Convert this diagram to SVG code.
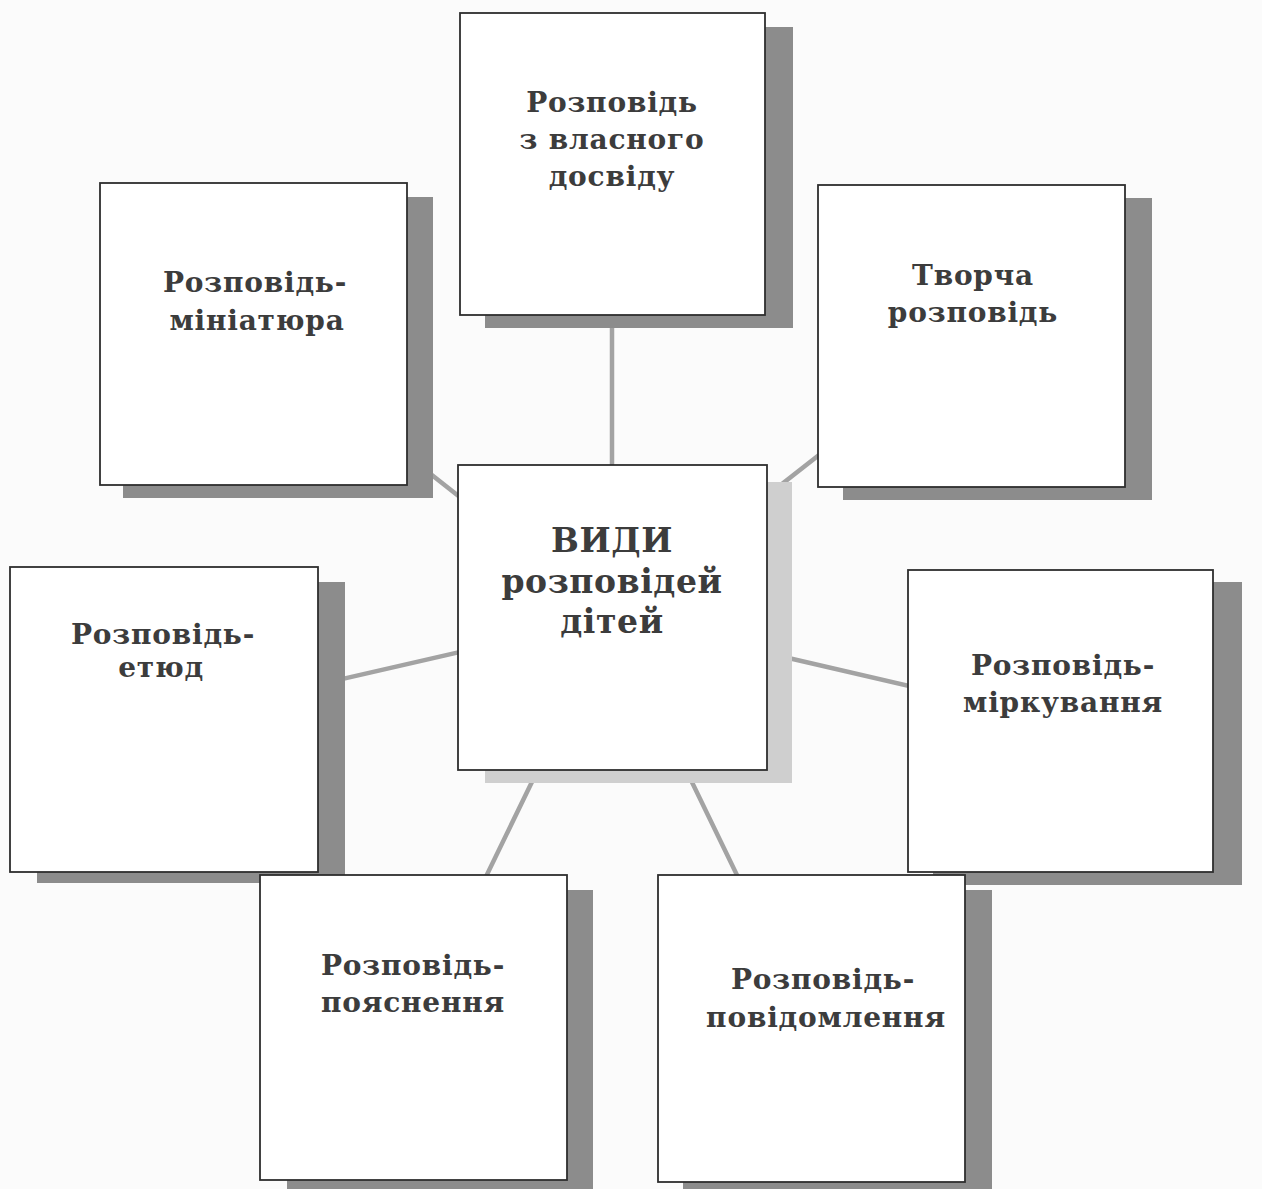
<svg xmlns="http://www.w3.org/2000/svg" width="1262" height="1189" viewBox="0 0 1262 1189">
<style>
.bg{fill:#fbfbfb}
.sh{fill:#8c8c8c}
.shl{fill:#cfcfcf}
.box{fill:#ffffff;stroke:#2e2e2e;stroke-width:1.8}
.t{font-family:"DejaVu Serif","Liberation Serif",serif;font-weight:bold;font-size:28px;letter-spacing:0.8px;fill:#3c3c3c;text-anchor:middle}
.tc{font-size:33px;letter-spacing:0.6px}
.c{stroke:#a3a3a3;stroke-width:4.5;fill:none;stroke-linecap:round}
</style>
<rect class="bg" x="0" y="0" width="1262" height="1189"/>
<g id="connectors">
<line class="c" x1="612" y1="617" x2="612" y2="164"/>
<line class="c" x1="612" y1="617" x2="253" y2="334"/>
<line class="c" x1="612" y1="617" x2="971" y2="336"/>
<line class="c" x1="612" y1="617" x2="164" y2="720"/>
<line class="c" x1="612" y1="617" x2="1060" y2="721"/>
<line class="c" x1="612" y1="617" x2="413" y2="1027"/>
<line class="c" x1="612" y1="617" x2="811" y2="1028"/>
</g>
<g id="node-top">
<rect class="sh" x="485" y="27" width="308" height="301"/>
<rect class="box" x="460" y="13" width="305" height="302"/>
<text class="t" x="612" y="112">Розповідь</text>
<text class="t" x="612" y="149">з власного</text>
<text class="t" x="612" y="186">досвіду</text>
</g>
<g id="node-top-left">
<rect class="sh" x="123" y="197" width="310" height="301"/>
<rect class="box" x="100" y="183" width="307" height="302"/>
<text class="t" x="255" y="292">Розповідь-</text>
<text class="t" x="257" y="330">мініатюра</text>
</g>
<g id="node-top-right">
<rect class="sh" x="843" y="198" width="309" height="302"/>
<rect class="box" x="818" y="185" width="307" height="302"/>
<text class="t" x="973" y="285">Творча</text>
<text class="t" x="973" y="322">розповідь</text>
</g>
<g id="node-center">
<rect class="shl" x="485" y="482" width="307" height="301"/>
<rect class="box" x="458" y="465" width="309" height="305"/>
<text class="t tc" x="612" y="552">ВИДИ</text>
<text class="t tc" x="612" y="593">розповідей</text>
<text class="t tc" x="612" y="633">дітей</text>
</g>
<g id="node-left">
<rect class="sh" x="37" y="582" width="308" height="301"/>
<rect class="box" x="10" y="567" width="308" height="305"/>
<text class="t" x="163" y="644">Розповідь-</text>
<text class="t" x="161" y="677">етюд</text>
</g>
<g id="node-right">
<rect class="sh" x="933" y="582" width="309" height="303"/>
<rect class="box" x="908" y="570" width="305" height="302"/>
<text class="t" x="1063" y="675">Розповідь-</text>
<text class="t" x="1063" y="712">міркування</text>
</g>
<g id="node-bottom-left">
<rect class="sh" x="287" y="890" width="306" height="299"/>
<rect class="box" x="260" y="875" width="307" height="305"/>
<text class="t" x="413" y="975">Розповідь-</text>
<text class="t" x="413" y="1012">пояснення</text>
</g>
<g id="node-bottom-right">
<rect class="sh" x="683" y="890" width="309" height="299"/>
<rect class="box" x="658" y="875" width="307" height="307"/>
<text class="t" x="823" y="989">Розповідь-</text>
<text class="t" x="826" y="1027">повідомлення</text>
</g>
</svg>
